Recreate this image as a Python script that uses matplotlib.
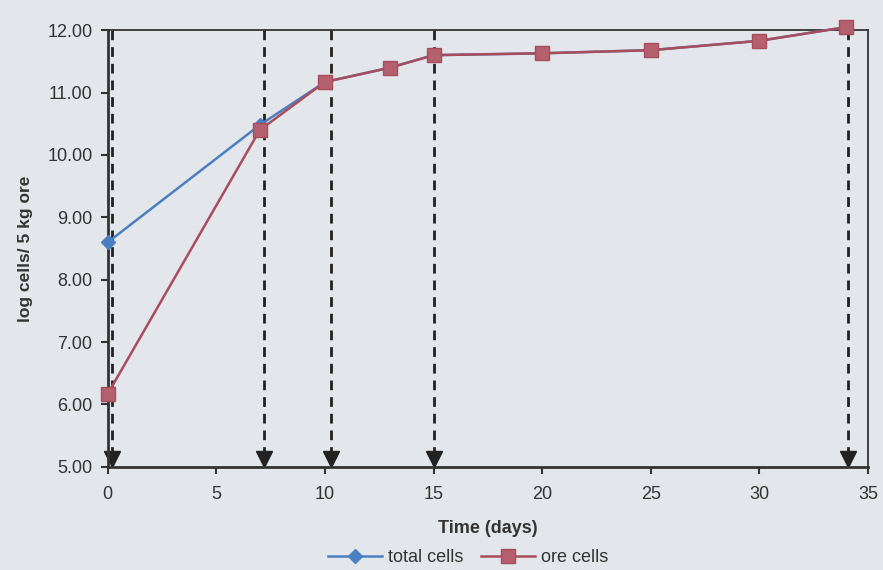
import matplotlib.pyplot as plt
import numpy as np

# data
days = [0, 7, 10, 13, 15, 20, 25, 30, 34]
total_cells = [8.6, 10.48, 11.17, 11.4, 11.6, 11.63, 11.68, 11.83, 12.05]
ore_cells = [6.17, 10.4, 11.17, 11.4, 11.6, 11.63, 11.68, 11.83, 12.05]
sample_days = [0.2, 7.2, 10.3, 15.0, 34.1]   # dashed arrows
x_ticks = [0, 5, 10, 15, 20, 25, 30, 35]
y_ticks = [5, 6, 7, 8, 9, 10, 11, 12]

bg = '#e3e6ea'
blue = '#4a80c2'
red = '#a94c5c'

plt.rcParams['font.family'] = ['Liberation Sans', 'DejaVu Sans']

fig = plt.figure(figsize=(8.83, 5.70), dpi=100, facecolor=bg)
ax = fig.add_axes([0.122, 0.181, 0.861, 0.766])
ax.set_facecolor(bg)

# dashed arrows marking sampling days
for d in sample_days:
    ax.plot([d, d], [12.0, 5.22], color='#222222', lw=2, ls=(0, (3.5, 2.5)), zorder=2, clip_on=False)
    ax.plot(d, 5.13, marker='v', color='#222222', ms=11, zorder=2, clip_on=False)

ax.plot(days, total_cells, color=blue, lw=1.8, marker='D', ms=7, mfc=blue, mec=blue,
        label='total cells', zorder=3, clip_on=False)
ax.plot(days, ore_cells, color=red, lw=1.8, marker='s', ms=10, mfc='#b5606e', mec=red,
        label='ore cells', zorder=4, clip_on=False)

ax.set_xlim(0, 35)
ax.set_ylim(5, 12)
ax.set_xticks(x_ticks)
ax.set_yticks(y_ticks)
ax.set_yticklabels(['%.2f' % v for v in y_ticks])
ax.tick_params(labelsize=13, length=5, width=1.5, color='#333333', labelcolor='#333333')
ax.tick_params(axis='x', pad=9)
ax.tick_params(axis='y', pad=6)

for s in ['left', 'bottom']:
    ax.spines[s].set_linewidth(2)
    ax.spines[s].set_color('#333333')
for s in ['top', 'right']:
    ax.spines[s].set_linewidth(1.3)
    ax.spines[s].set_color('#333333')

ax.set_xlabel('Time (days)', fontsize=13, fontweight='bold', color='#333333', labelpad=12)
ax.set_ylabel('log cells/ 5 kg ore', fontsize=12.5, fontweight='bold', color='#333333', labelpad=10)

fig.legend(loc='lower center', bbox_to_anchor=(0.53, -0.022), ncol=2, frameon=False,
           fontsize=13, handlelength=3, columnspacing=1.0, handletextpad=0.3,
           labelcolor='#333333')

plt.savefig('out.png', dpi=100, facecolor=bg)
